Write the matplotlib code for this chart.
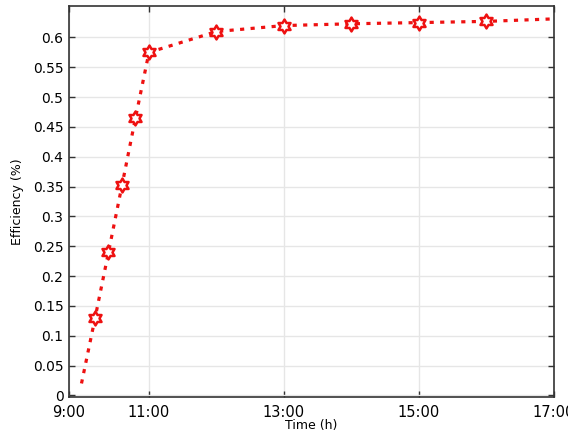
import matplotlib
matplotlib.use("Agg")
import matplotlib.pyplot as plt
import numpy as np
from matplotlib.path import Path

# time in hours, efficiency
hours = [10.0, 10.2, 10.4, 10.6, 10.8, 11.0, 12.0, 13.0, 14.0, 15.0, 16.0, 16.95]
eff = [0.02, 0.129, 0.240, 0.352, 0.465, 0.575, 0.610, 0.620, 0.623, 0.625, 0.627, 0.631]
marked = [False, True, True, True, True, True, True, True, True, True, True, False]

xtick_pos = [9.815, 11, 13, 15, 17]
xtick_labels = ["9:00", "11:00", "13:00", "15:00", "17:00"]
ytick_pos = np.arange(0, 0.61, 0.05)

# hexagram outline marker
ang_out = np.deg2rad(90 + np.arange(6) * 60)
ang_in = ang_out + np.deg2rad(30)
r_in = 1 / np.sqrt(3)
verts = []
for a, b in zip(ang_out, ang_in):
    verts.append((np.cos(a), np.sin(a)))
    verts.append((r_in * np.cos(b), r_in * np.sin(b)))
verts.append(verts[0])
star = Path(verts, closed=True)

fig = plt.figure(figsize=(5.68, 4.32), dpi=100)
ax = fig.add_axes([0.1215, 0.082, 0.8535, 0.903])

ax.plot(hours, eff, color="#ee1111", lw=2.3, linestyle=(0, (1.3, 2.0)),
        dash_capstyle="butt", zorder=3)
mx = [h for h, m in zip(hours, marked) if m]
my = [e for e, m in zip(eff, marked) if m]
ax.plot(mx, my, linestyle="none", marker=star, markersize=10,
        markerfacecolor="white", markeredgecolor="#ee1111", markeredgewidth=1.8, zorder=4)

ax.set_xlim(9.815, 17.0)
ax.set_ylim(-0.002, 0.652)
ax.set_xticks(xtick_pos)
ax.set_xticklabels(xtick_labels)
ax.set_yticks(ytick_pos)
ax.set_yticklabels(["%g" % round(v, 2) for v in ytick_pos])
ax.grid(True, color="#e6e6e6", lw=1.0)
ax.set_axisbelow(True)
ax.tick_params(direction="in", top=True, right=True, length=4, width=1,
               color="#333333", labelsize=10, pad=4)
ax.tick_params(axis="x", labelsize=10.5, pad=6)
for s in ax.spines.values():
    s.set_color("#333333")
    s.set_linewidth(1.2)

ax.set_xlabel("Time (h)", fontsize=9, labelpad=-1)
ax.set_ylabel("Efficiency (%)", fontsize=9, labelpad=6)

fig.savefig("out.png", dpi=100)
